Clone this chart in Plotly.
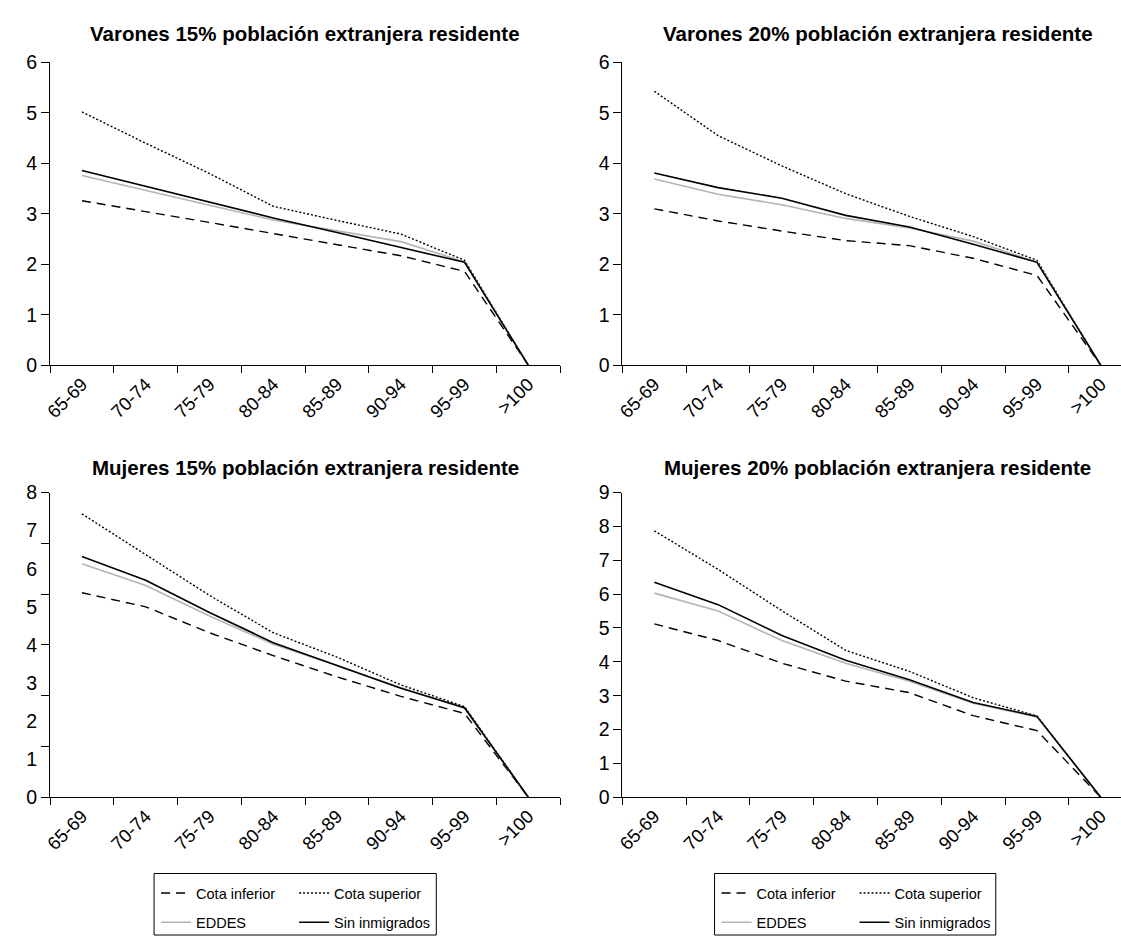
import plotly.graph_objects as go

W, H = 1121, 947

age_groups = ["65-69", "70-74", "75-79", "80-84", "85-89", "90-94", "95-99", ">100"]

series_names = ["Cota inferior", "Cota superior", "EDDES", "Sin inmigrados"]

panel_titles = [
    "Varones 15% población extranjera residente",
    "Varones 20% población extranjera residente",
    "Mujeres 15% población extranjera residente",
    "Mujeres 20% población extranjera residente",
]

# Varones 15%
v15_inferior = [3.26, 3.05, 2.83, 2.61, 2.39, 2.17, 1.86, 0.0]
v15_superior = [5.02, 4.40, 3.80, 3.15, 2.87, 2.60, 2.08, 0.0]
v15_eddes = [3.76, 3.46, 3.17, 2.88, 2.66, 2.45, 2.05, 0.0]
v15_sin = [3.86, 3.55, 3.24, 2.92, 2.63, 2.34, 2.04, 0.0]

# Varones 20%
v20_inferior = [3.10, 2.86, 2.66, 2.47, 2.37, 2.12, 1.78, 0.0]
v20_superior = [5.43, 4.55, 3.95, 3.40, 2.95, 2.55, 2.08, 0.0]
v20_eddes = [3.69, 3.39, 3.18, 2.91, 2.72, 2.46, 2.05, 0.0]
v20_sin = [3.81, 3.52, 3.31, 2.97, 2.74, 2.40, 2.04, 0.0]

# Mujeres 15%
m15_inferior = [5.37, 5.00, 4.32, 3.72, 3.16, 2.65, 2.20, 0.0]
m15_superior = [7.44, 6.37, 5.30, 4.32, 3.68, 2.95, 2.38, 0.0]
m15_eddes = [6.13, 5.56, 4.76, 4.02, 3.46, 2.88, 2.33, 0.0]
m15_sin = [6.32, 5.70, 4.85, 4.06, 3.46, 2.86, 2.35, 0.0]

# Mujeres 20%
m20_inferior = [5.12, 4.63, 3.96, 3.43, 3.09, 2.41, 1.97, 0.0]
m20_superior = [7.87, 6.73, 5.51, 4.34, 3.72, 2.94, 2.40, 0.0]
m20_eddes = [6.03, 5.50, 4.63, 3.96, 3.43, 2.78, 2.37, 0.0]
m20_sin = [6.35, 5.69, 4.78, 4.05, 3.47, 2.80, 2.39, 0.0]

# y-axis tick labels
ylabels_v15 = ["0", "1", "2", "3", "4", "5", "6"]
ylabels_v20 = ["0", "1", "2", "3", "4", "5", "6"]
ylabels_m15 = ["0", "1", "2", "3", "4", "5", "6", "7", "8"]
ylabels_m20 = ["0", "1", "2", "3", "4", "5", "6", "7", "8", "9"]

panels = [
    [v15_inferior, v15_superior, v15_eddes, v15_sin],
    [v20_inferior, v20_superior, v20_eddes, v20_sin],
    [m15_inferior, m15_superior, m15_eddes, m15_sin],
    [m20_inferior, m20_superior, m20_eddes, m20_sin],
]

FONT = "Arial, Liberation Sans, sans-serif"

styles = {
    "Cota inferior": dict(color="black", width=1.4, dash="9px,6px"),
    "Cota superior": dict(color="black", width=1.4, dash="2px,2px"),
    "EDDES": dict(color="#b4b4b4", width=1.6),
    "Sin inmigrados": dict(color="black", width=1.6),
}

fig = go.Figure()

axis_ids = [("x", "y"), ("x2", "y2"), ("x3", "y3"), ("x4", "y4")]
legend_map = {
    2: {"Cota inferior": "legend", "Cota superior": "legend",
        "EDDES": "legend2", "Sin inmigrados": "legend2"},
    3: {"Cota inferior": "legend3", "Cota superior": "legend3",
        "EDDES": "legend4", "Sin inmigrados": "legend4"},
}

for p, (xa, ya) in enumerate(axis_ids):
    for name, vals in zip(series_names, panels[p]):
        kw = {}
        if p in legend_map:
            kw["legend"] = legend_map[p][name]
            kw["showlegend"] = True
        else:
            kw["showlegend"] = False
        fig.add_trace(go.Scatter(
            x=age_groups, y=vals, name=name, mode="lines",
            line=styles[name], xaxis=xa, yaxis=ya, **kw))

# plot-area geometry (pixels)
left_x0, left_x1 = 43.3, 556.7
cat_w = (left_x1 - left_x0) / 8
right_x0 = 619.3
right_x1 = W
right_range_end = -0.5 + (right_x1 - right_x0) / cat_w
top_y0, top_y1 = 52.7, 362.7
bot_y0, bot_y1 = 493.0, 805.0


def px_x(v):
    return v / W


def px_y(v):
    return 1 - v / H


def xaxis_cfg(domain, rng, anchor):
    return dict(
        domain=domain, anchor=anchor, type="category", range=rng,
        tickson="boundaries", ticks="outside", ticklen=7, tickwidth=1,
        tickcolor="black", showline=True, linecolor="black", linewidth=1,
        tickangle=-45, tickfont=dict(size=18.5, color="black", family=FONT),
        showgrid=False, zeroline=False, fixedrange=True,
    )


def yaxis_cfg(domain, labels, anchor):
    n = len(labels) - 1
    return dict(
        domain=domain, anchor=anchor, range=[0, n],
        tickmode="array", tickvals=list(range(n + 1)), ticktext=labels,
        ticks="outside", ticklen=8, tickwidth=1, tickcolor="black",
        showline=True, linecolor="black", linewidth=1,
        tickfont=dict(size=19.5, color="black", family=FONT),
        showgrid=False, zeroline=False, fixedrange=True,
    )


xl = [px_x(left_x0), px_x(left_x1)]
xr = [px_x(right_x0), 1.0]
yt = [px_y(top_y1), px_y(top_y0)]
yb = [px_y(bot_y1), px_y(bot_y0)]

ya3 = yaxis_cfg(yb, ylabels_m15, "x3")
# in this panel the tick marks divide the axis into six parts,
# while the labels are spaced one unit apart
ya3["tickcolor"] = "rgba(0,0,0,0)"
ya3["minor"] = dict(
    tickmode="array",
    tickvals=[i * (len(ylabels_m15) - 1) / 6 for i in range(7)],
    ticks="outside", ticklen=8, tickwidth=1, tickcolor="black", showgrid=False,
)

fig.update_layout(
    width=W, height=H,
    margin=dict(l=0, r=0, t=0, b=0),
    paper_bgcolor="white", plot_bgcolor="white",
    font=dict(family=FONT, color="black"),
    xaxis=xaxis_cfg(xl, [-0.5, 7.5], "y"),
    yaxis=yaxis_cfg(yt, ylabels_v15, "x"),
    xaxis2=xaxis_cfg(xr, [-0.5, right_range_end], "y2"),
    yaxis2=yaxis_cfg(yt, ylabels_v20, "x2"),
    xaxis3=xaxis_cfg(xl, [-0.5, 7.5], "y3"),
    yaxis3=ya3,
    xaxis4=xaxis_cfg(xr, [-0.5, right_range_end], "y4"),
    yaxis4=yaxis_cfg(yb, ylabels_m20, "x4"),
)

# subplot titles
title_cx = [(left_x0 + left_x1) / 2, (right_x0 + right_x0 + 8 * cat_w) / 2]
title_y = [23, 467]
for i, t in enumerate(panel_titles):
    fig.add_annotation(
        text="<b>" + t + "</b>", xref="paper", yref="paper",
        x=px_x(title_cx[i % 2]), y=px_y(title_y[i // 2]),
        xanchor="center", yanchor="middle", showarrow=False,
        font=dict(size=20.5, color="black", family=FONT),
    )

# legends: two rows per panel inside one box
legend_common = dict(
    orientation="h", xanchor="left", yanchor="middle",
    bgcolor="rgba(0,0,0,0)", borderwidth=0,
    font=dict(size=14.5, color="black", family=FONT),
    entrywidth=93, entrywidthmode="pixels", itemwidth=30,
    traceorder="normal",
)
box_x = [(148, 432), (712, 995)]
box_y = (883, 946)
row_y = [903, 933]
fig.update_layout(
    legend=dict(x=px_x(box_x[0][0] + 2), y=px_y(row_y[0]), **legend_common),
    legend2=dict(x=px_x(box_x[0][0] + 2), y=px_y(row_y[1]), **legend_common),
    legend3=dict(x=px_x(box_x[1][0] + 2), y=px_y(row_y[0]), **legend_common),
    legend4=dict(x=px_x(box_x[1][0] + 2), y=px_y(row_y[1]), **legend_common),
)
for bx0, bx1 in box_x:
    fig.add_shape(
        type="rect", xref="paper", yref="paper",
        x0=px_x(bx0), x1=px_x(bx1), y0=px_y(box_y[1]), y1=px_y(box_y[0]),
        line=dict(color="black", width=1), fillcolor="rgba(0,0,0,0)",
    )

fig.write_html(
    "out.html",
    config={"displayModeBar": False},
    post_script="document.body.style.margin='0';",
)
